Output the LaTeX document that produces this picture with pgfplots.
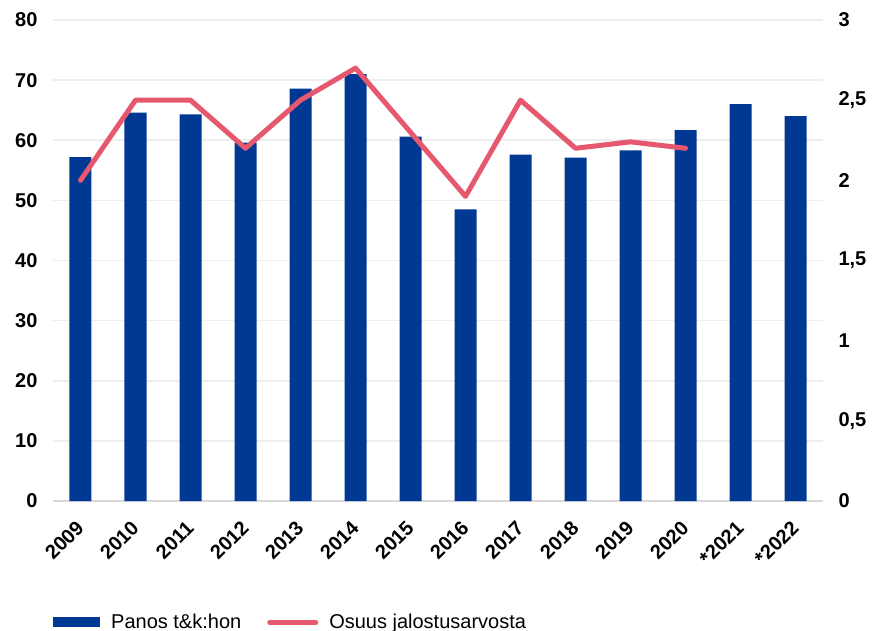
\documentclass[border=0pt]{standalone}
\usepackage{fontspec}
\setmainfont{Liberation Sans}
\usepackage{pgfplots}
\pgfplotsset{compat=1.18}
\definecolor{barblue}{RGB}{0,56,147}
\definecolor{linered}{RGB}{230,88,110}
\definecolor{gridgray}{RGB}{238,238,238}
\definecolor{axisgray}{RGB}{217,217,217}
\pgfplotsset{
  common/.style={
    scale only axis, width=770bp, height=481bp,
    xmin=-0.5, xmax=13.5,
    major tick length=0,
    /pgf/number format/assume math mode=true,
    tick label style={font=\bfseries\fontsize{20bp}{24bp}\selectfont},
  }
}
\begin{document}
\begin{tikzpicture}
\path[use as bounding box] (-53bp,-130bp) rectangle (820bp,501bp);
\begin{axis}[
  common,
  ymin=0, ymax=80,
  axis x line=bottom, axis y line=left,
  x axis line style={draw=axisgray, line width=1.5bp, -},
  y axis line style={draw=none},
  ytick={0,10,...,80},
  ymajorgrids, grid style={gridgray, line width=1.5bp},
  xtick={0,...,13},
  xticklabels={2009,2010,2011,2012,2013,2014,2015,2016,2017,2018,2019,2020,*2021,*2022},
  xticklabel style={yshift=-21bp, xshift=2bp, rotate=45, anchor=east},
  yticklabel style={xshift=-12bp},
  legend style={at={(0,-0.252)}, anchor=west, draw=none, fill=none,
    inner xsep=0pt, inner ysep=0pt, nodes={inner ysep=0.5bp},
    font=\fontsize{20bp}{24bp}\selectfont,
    /tikz/every odd column/.append style={column sep=9bp},
    /tikz/every even column/.append style={column sep=24bp}},
  legend columns=2,
]
\addplot[ybar, bar width=0.4, fill=barblue, draw=none,
  legend image code/.code={\fill[barblue] (0bp,-5bp) rectangle (47bp,5bp);}]
  coordinates {(0,57.2) (1,64.6) (2,64.3) (3,59.6) (4,68.6) (5,71.0) (6,60.6)
               (7,48.5) (8,57.6) (9,57.1) (10,58.3) (11,61.7) (12,66.0) (13,64.0)};
\addlegendentry{Panos t\&k:hon}
\addlegendimage{linered, line width=5bp, line cap=round,
  legend image code/.code={\draw[linered, line width=5bp, line cap=round] (2.5bp,0bp) -- (48.5bp,0bp);}}
\addlegendentry{Osuus jalostusarvosta}
\end{axis}
\begin{axis}[
  common,
  ymin=0, ymax=3,
  axis x line=none, axis y line*=right,
  y axis line style={draw=none},
  ytick={0,0.5,1,1.5,2,2.5,3},
  yticklabels={0,{0,5},1,{1,5},2,{2,5},3},
  yticklabel style={xshift=12bp},
]
\addplot[linered, line width=5bp, line join=round, line cap=round]
  coordinates {(0,2.0) (1,2.5) (2,2.5) (3,2.2) (4,2.5) (5,2.7) (6,2.3)
               (7,1.9) (8,2.5) (9,2.2) (10,2.24) (11,2.2)};
\end{axis}
\end{tikzpicture}
\end{document}
